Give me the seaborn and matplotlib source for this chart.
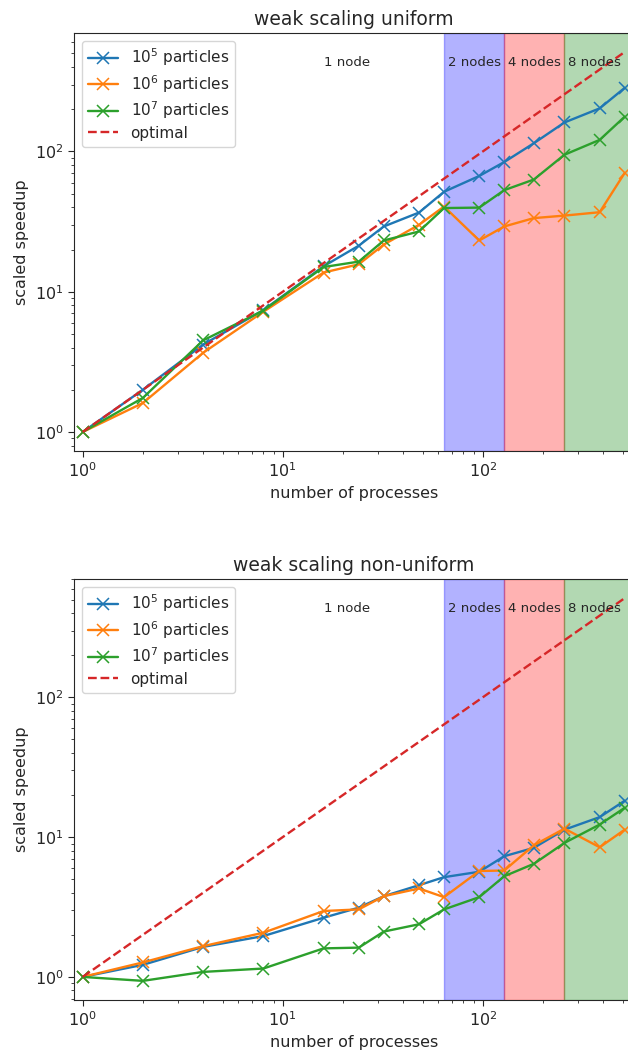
import matplotlib
matplotlib.use("Agg")
import matplotlib.pyplot as plt
import matplotlib.transforms as mtransforms
import seaborn as sns
import pandas as pd

sns.set_style("ticks")
plt.rcParams["font.family"] = ["DejaVu Sans"]
plt.rcParams["xtick.direction"] = "out"
plt.rcParams["ytick.direction"] = "out"

processes = [1, 2, 4, 8, 16, 24, 32, 48, 64, 96, 128, 180, 256, 384, 512]
series_labels = ["$10^5$ particles", "$10^6$ particles", "$10^7$ particles"]
series_colors = ["tab:blue", "tab:orange", "tab:green"]

uniform_1e5 = [1.0, 2.0, 4.2, 7.4, 15.2, 21.3, 29.2, 36.7, 51.6, 66.9, 84.1, 114.5, 161.0, 203.0, 284.0]
uniform_1e6 = [1.0, 1.61, 3.67, 7.2, 13.7, 15.7, 21.7, 30.0, 40.5, 23.2, 29.2, 33.5, 34.9, 36.9, 70.3]
uniform_1e7 = [1.0, 1.75, 4.5, 7.34, 15.0, 16.4, 23.2, 26.9, 39.5, 39.8, 53.0, 63.1, 94.8, 121.0, 177.0]

nonuniform_1e5 = [1.0, 1.22, 1.64, 1.96, 2.65, 3.13, 3.78, 4.53, 5.17, 5.65, 7.30, 8.38, 11.3, 13.9, 18.2]
nonuniform_1e6 = [1.0, 1.27, 1.66, 2.07, 2.96, 3.04, 3.78, 4.29, 3.72, 5.72, 5.77, 8.74, 11.5, 8.46, 11.3]
nonuniform_1e7 = [1.0, 0.937, 1.086, 1.148, 1.60, 1.62, 2.11, 2.38, 3.04, 3.72, 5.25, 6.44, 9.09, 12.3, 16.2]

optimal = processes

node_labels = ["1 node", "2 nodes", "4 nodes", "8 nodes"]
node_label_x = [21, 90.5, 181, 362]
node_bounds = [64, 128, 256, 1024]
node_colors = ["blue", "red", "green"]

titles = ["weak scaling uniform", "weak scaling non-uniform"]
panels = [
    [uniform_1e5, uniform_1e6, uniform_1e7],
    [nonuniform_1e5, nonuniform_1e6, nonuniform_1e7],
]

W, H = 628, 1051
fig = plt.figure(figsize=(W / 100, H / 100), dpi=100)

ax_left, ax_right = 74, 634
panel_px = [(33, 451), (579, 1000)]

for (top, bottom), title, data in zip(panel_px, titles, panels):
    ax = fig.add_axes([ax_left / W, (H - bottom) / H, (ax_right - ax_left) / W, (bottom - top) / H])
    ax.set_xscale("log")
    ax.set_yscale("log")
    for vals, lab, col in zip(data, series_labels, series_colors):
        df = pd.DataFrame({"p": processes, "s": vals})
        sns.lineplot(data=df, x="p", y="s", ax=ax, color=col, label=lab,
                     marker="x", markersize=8, mec=col, mew=1.1, lw=1.7)
    dfo = pd.DataFrame({"p": processes, "s": optimal})
    sns.lineplot(data=dfo, x="p", y="s", ax=ax, color="tab:red", label="optimal",
                 linestyle="--", lw=1.7)
    for i, c in enumerate(node_colors):
        ax.axvspan(node_bounds[i], node_bounds[i + 1], color=c, alpha=0.3, zorder=0)
    ax.set_xlim(0.905, 570)
    trans = mtransforms.blended_transform_factory(ax.transData, ax.transAxes)
    for lx, lt in zip(node_label_x, node_labels):
        ax.text(lx, 0.93, lt, transform=trans, ha="center", va="center", fontsize=9.5)
    ax.set_title(title, fontsize=13.5)
    ax.set_xlabel("number of processes", fontsize=11.5)
    ax.set_ylabel("scaled speedup", fontsize=11.5)
    ax.legend(loc="upper left", fontsize=11, labelspacing=0.3)
    ax.tick_params(labelsize=11.5, length=4)

fig.savefig("out.png", dpi=100)
